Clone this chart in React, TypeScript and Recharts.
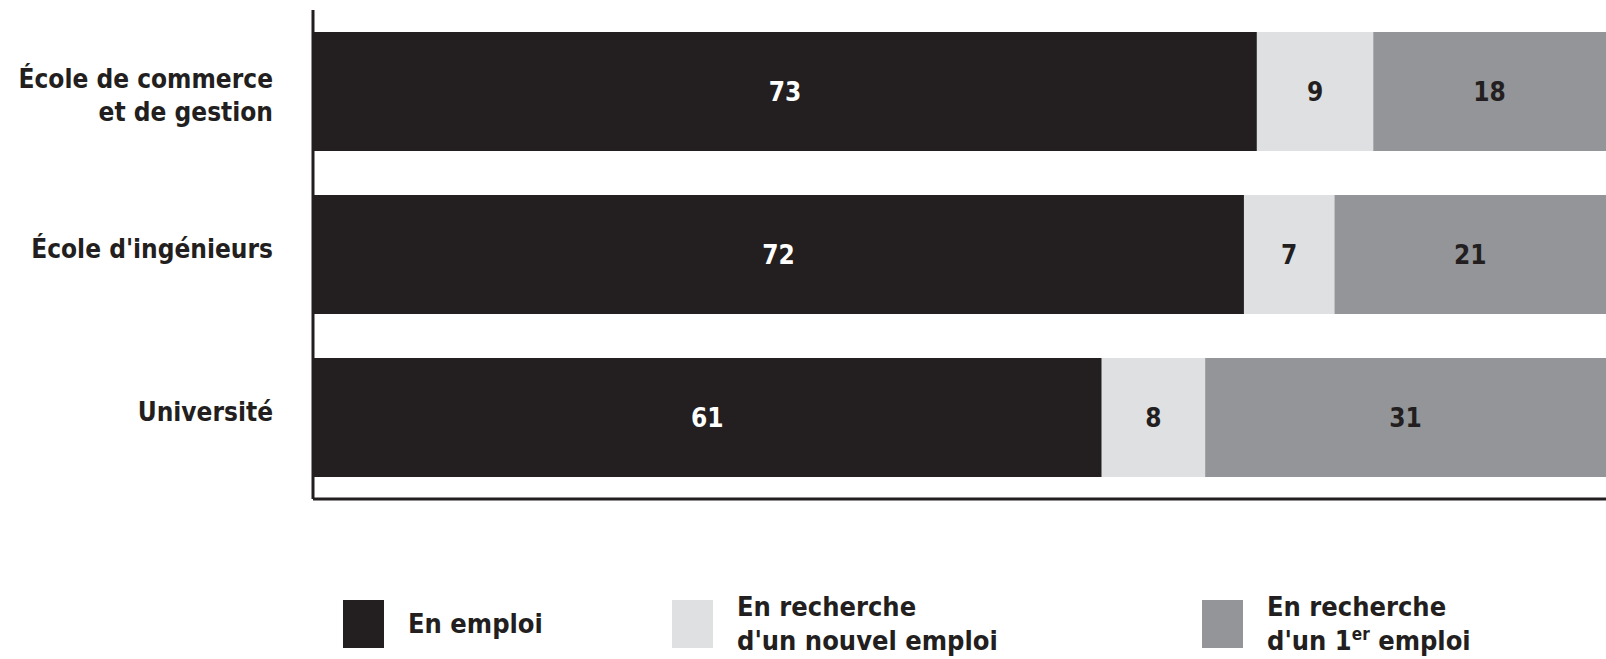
import { BarChart, Bar, XAxis, YAxis, LabelList, Legend } from 'recharts';

const categories = ['École de commerce\net de gestion', "École d'ingénieurs", 'Université'];
const enEmploi = [73, 72, 61];
const rechercheNouvel = [9, 7, 8];
const recherchePremier = [18, 21, 31];

const seriesNames = ['En emploi', "En recherche\nd'un nouvel emploi", "En recherche\nd'un 1|er| emploi"];

const DARK = '#231f20';
const LIGHT = '#dfe0e2';
const MID = '#939598';
const FONT = "'DejaVu Sans Condensed', 'DejaVu Sans', sans-serif";

const data = categories.map((name, i) => ({
  name,
  emploi: enEmploi[i],
  nouvel: rechercheNouvel[i],
  premier: recherchePremier[i],
}));

const series = [
  { key: 'emploi', name: seriesNames[0], color: DARK, text: '#ffffff' },
  { key: 'nouvel', name: seriesNames[1], color: LIGHT, text: DARK },
  { key: 'premier', name: seriesNames[2], color: MID, text: DARK },
];

// legend item widths (left edge of each square)
const legendLeft = 343;
const legendWidths = [329, 530, 400];

function CategoryTick(props: any) {
  const { x, y, payload } = props;
  const lines = String(payload.value).split('\n');
  const start = lines.length > 1 ? -13 : -6;
  return (
    <text
      x={x}
      y={y}
      textAnchor="end"
      fill={DARK}
      style={{ fontFamily: FONT, fontSize: 26, fontWeight: 'bold', fontStretch: 'condensed' }}
    >
      {lines.map((l, i) => (
        <tspan key={i} x={x} y={y + start + i * 33} dy="0.35em">
          {l}
        </tspan>
      ))}
    </text>
  );
}

function renderLabelLine(line: string) {
  const parts = line.split('|');
  return parts.map((p, i) =>
    i % 2 === 1 ? (
      <sup key={i} style={{ fontSize: 17, lineHeight: 0 }}>
        {p}
      </sup>
    ) : (
      <span key={i}>{p}</span>
    ),
  );
}

function LegendContent() {
  return (
    <div style={{ display: 'flex', paddingLeft: legendLeft, fontFamily: FONT, fontStretch: 'condensed' }}>
      {series.map((s, i) => (
        <div key={s.key} style={{ display: 'flex', alignItems: 'center', width: legendWidths[i] }}>
          <div style={{ width: 41, height: 48, background: s.color, flexShrink: 0 }} />
          <div
            style={{
              marginLeft: 24,
              fontSize: 27,
              fontWeight: 'bold',
              lineHeight: '34px',
              color: DARK,
              textAlign: 'left',
              whiteSpace: 'nowrap',
            }}
          >
            {s.name.split('\n').map((l, j) => (
              <div key={j}>{renderLabelLine(l)}</div>
            ))}
          </div>
        </div>
      ))}
    </div>
  );
}

export default function App() {
  return (
    <div style={{ position: 'absolute', left: 0, top: 0, width: 1606, height: 659, background: '#fff' }}>
      <BarChart
        width={1606}
        height={659}
        data={data}
        layout="vertical"
        margin={{ top: 10, right: 0, bottom: 158, left: 0 }}
        barSize={119}
      >
        <XAxis
          type="number"
          domain={[0, 100]}
          tick={false}
          tickLine={false}
          height={2}
          axisLine={{ stroke: DARK, strokeWidth: 3 }}
        />
        <YAxis
          type="category"
          dataKey="name"
          width={313}
          tickLine={false}
          tickSize={0}
          tickMargin={40}
          axisLine={{ stroke: DARK, strokeWidth: 3 }}
          tick={<CategoryTick />}
        />
        <Legend
          layout="horizontal"
          verticalAlign="middle"
          align="center"
          wrapperStyle={{ top: 590, left: 0, width: 1606 }}
          content={<LegendContent />}
        />
        {series.map((s) => (
          <Bar key={s.key} dataKey={s.key} stackId="a" fill={s.color} isAnimationActive={false}>
            <LabelList
              dataKey={s.key}
              position="center"
              fill={s.text}
              style={{ fontFamily: FONT, fontSize: 26, fontWeight: 'bold', fontStretch: 'condensed' }}
            />
          </Bar>
        ))}
      </BarChart>
    </div>
  );
}
